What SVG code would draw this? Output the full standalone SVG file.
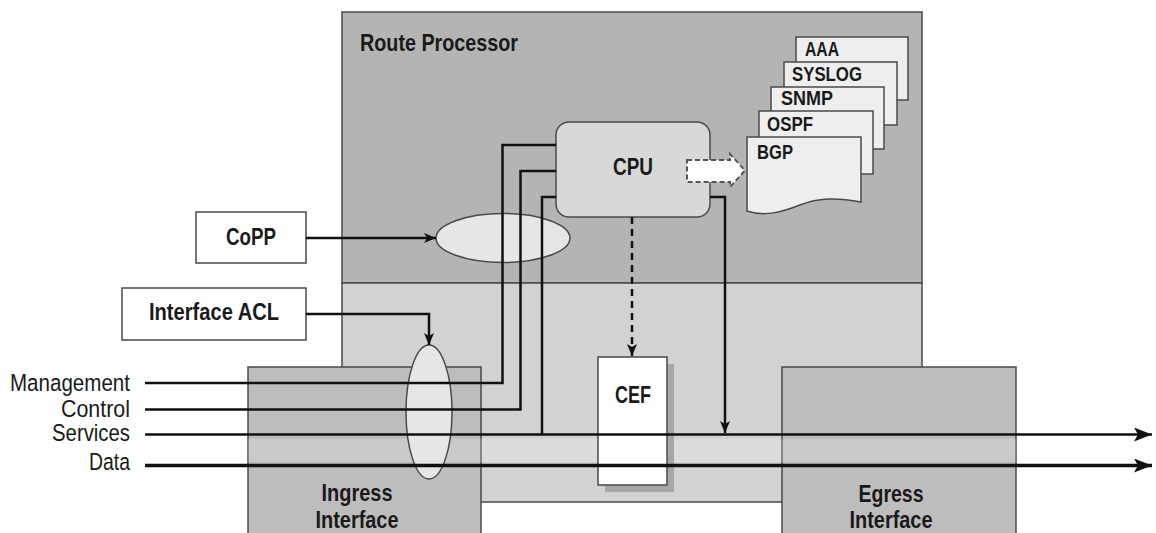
<svg xmlns="http://www.w3.org/2000/svg" width="1156" height="533" viewBox="0 0 1156 533">
  <style>
    .box { stroke: #4a4a4a; stroke-width: 1.5; }
    .lbl { font-family: "Liberation Sans Narrow", "Liberation Sans", Arial, sans-serif; font-weight: bold; fill: #1a1a1a; }
    .side { font-family: "Liberation Sans Narrow", "Liberation Sans", Arial, sans-serif; font-weight: normal; fill: #1a1a1a; font-size: 24.5px; text-anchor: end; }
    .big { font-size: 24.5px; }
    .doc { font-size: 21px; }
    .wire { fill: none; stroke: #111; stroke-width: 2.5; }
    .data { fill: none; stroke: #111; stroke-width: 3.5; }
  </style>
  <defs>
    <marker id="ah" viewBox="0 0 12 10" refX="12" refY="5" markerWidth="12" markerHeight="10" markerUnits="userSpaceOnUse" orient="auto">
      <path d="M0,0 L12,5 L0,10 L3,5 Z" fill="#111"/>
    </marker>
    <marker id="ahBig" viewBox="0 0 18 14" refX="18" refY="7" markerWidth="18" markerHeight="14" markerUnits="userSpaceOnUse" orient="auto">
      <path d="M0,0 L18,7 L0,14 L4,7 Z" fill="#111"/>
    </marker>
  </defs>

  <rect width="1156" height="533" fill="#ffffff"/>

  <g id="route-processor">
    <rect class="box" x="342" y="12" width="580" height="271" fill="#b4b4b4"/>
    <rect class="box" x="342" y="283" width="580" height="219" fill="#d2d2d2"/>
    <text class="lbl big" x="360" y="51" textLength="158" lengthAdjust="spacingAndGlyphs">Route Processor</text>
  </g>

  <g id="ingress-interface">
    <rect class="box" x="248" y="367" width="233" height="175" fill="#bdbdbd"/>
    <text class="lbl big" x="357" y="501" text-anchor="middle" textLength="71" lengthAdjust="spacingAndGlyphs">Ingress</text>
    <text class="lbl big" x="357" y="528" text-anchor="middle" textLength="83" lengthAdjust="spacingAndGlyphs">Interface</text>
  </g>

  <g id="egress-interface">
    <rect class="box" x="782" y="367" width="234" height="175" fill="#bdbdbd"/>
    <text class="lbl big" x="891" y="502" text-anchor="middle" textLength="65" lengthAdjust="spacingAndGlyphs">Egress</text>
    <text class="lbl big" x="891" y="528" text-anchor="middle" textLength="83" lengthAdjust="spacingAndGlyphs">Interface</text>
  </g>

  <rect x="248" y="439" width="768" height="23" fill="#ffffff" opacity="0.2"/>

  <g id="cef">
    <rect x="605" y="364" width="69" height="128" fill="#a6a6a6"/>
    <rect class="box" x="598" y="357" width="69" height="128" fill="#ffffff"/>
    <text class="lbl big" x="633" y="403" text-anchor="middle" textLength="36" lengthAdjust="spacingAndGlyphs">CEF</text>
  </g>

  <g id="copp-filter">
    <ellipse class="box" cx="503" cy="238" rx="67" ry="24.5" fill="#e6e6e6"/>
  </g>

  <g id="acl-filter">
    <ellipse class="box" cx="429" cy="412" rx="23" ry="67" fill="#e6e6e6"/>
  </g>

  <g id="cpu">
    <rect class="box" x="556" y="122" width="154" height="95" rx="13" fill="#d8d8d8"/>
    <text class="lbl big" x="633" y="175" text-anchor="middle" textLength="40" lengthAdjust="spacingAndGlyphs">CPU</text>
  </g>

  <g id="doc-aaa">
    <rect class="box" x="796" y="37" width="112" height="63" fill="#eeeeee"/>
    <text class="lbl doc" x="805" y="56" textLength="34" lengthAdjust="spacingAndGlyphs">AAA</text>
  </g>
  <g id="doc-syslog">
    <rect class="box" x="784" y="62" width="113" height="63" fill="#eeeeee"/>
    <text class="lbl doc" x="792" y="81" textLength="70" lengthAdjust="spacingAndGlyphs">SYSLOG</text>
  </g>
  <g id="doc-snmp">
    <rect class="box" x="771" y="87" width="113" height="62" fill="#eeeeee"/>
    <text class="lbl doc" x="781" y="105" textLength="52" lengthAdjust="spacingAndGlyphs">SNMP</text>
  </g>
  <g id="doc-ospf">
    <rect class="box" x="759" y="111" width="114" height="63" fill="#eeeeee"/>
    <text class="lbl doc" x="767" y="131" textLength="46" lengthAdjust="spacingAndGlyphs">OSPF</text>
  </g>
  <g id="doc-bgp">
    <path class="box" d="M747,137 H861 V202 C835,197 818,198 800,205 C782,212 765,217 747,211 Z" fill="#eeeeee"/>
    <text class="lbl doc" x="757" y="159" textLength="36" lengthAdjust="spacingAndGlyphs">BGP</text>
  </g>

  <g id="cpu-to-bgp">
    <path d="M687,160 H730 V154 L745,170.5 L730,187 V182 H687 Z" fill="#ffffff" stroke="#555" stroke-width="2" stroke-dasharray="5,3"/>
  </g>

  <g id="copp">
    <rect class="box" x="196" y="212" width="110" height="51" fill="#ffffff"/>
    <text class="lbl big" x="251" y="244.5" text-anchor="middle" textLength="50" lengthAdjust="spacingAndGlyphs">CoPP</text>
  </g>

  <g id="interface-acl">
    <rect class="box" x="122" y="288" width="184" height="52" fill="#ffffff"/>
    <text class="lbl big" x="214" y="320" text-anchor="middle" textLength="130" lengthAdjust="spacingAndGlyphs">Interface ACL</text>
  </g>

  <g id="connectors">
    <path class="wire" d="M145,383 H502.5 V145 H556"/>
    <path class="wire" d="M145,409.5 H520.5 V171 H556"/>
    <path class="wire" d="M556,197 H542 V434.5"/>
    <path class="wire" d="M145,434.5 H1152" marker-end="url(#ahBig)"/>
    <path class="data" d="M145,465.5 H1152" marker-end="url(#ahBig)"/>
    <path class="wire" d="M710,197 H725 V433" marker-end="url(#ah)"/>
    <path class="wire" d="M632,217 V356" stroke-dasharray="7,5" marker-end="url(#ah)"/>
    <path class="wire" d="M306,238 H436" marker-end="url(#ah)"/>
    <path class="wire" d="M306,314 H429 V345" marker-end="url(#ah)"/>
  </g>

  <g id="flow-labels">
    <text class="side" x="130" y="391" textLength="120" lengthAdjust="spacingAndGlyphs">Management</text>
    <text class="side" x="130" y="416.5" textLength="69" lengthAdjust="spacingAndGlyphs">Control</text>
    <text class="side" x="130" y="441" textLength="78" lengthAdjust="spacingAndGlyphs">Services</text>
    <text class="side" x="130" y="470" textLength="41" lengthAdjust="spacingAndGlyphs">Data</text>
  </g>
</svg>
